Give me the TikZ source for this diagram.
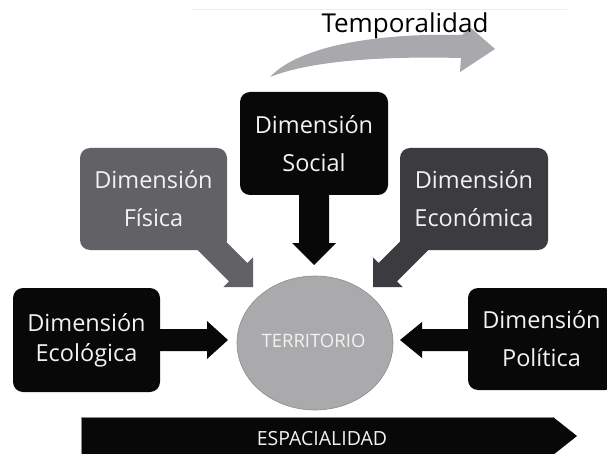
\documentclass[tikz,border=0pt]{standalone}
\usepackage{fontspec}
\setmainfont{Open Sans}
\usetikzlibrary{calc,shapes.geometric}
\pgfdeclarelayer{background}
\pgfsetlayers{background,main}
\definecolor{fisgray}{RGB}{98,98,102}
\definecolor{ecogray}{RGB}{60,59,63}
\definecolor{terrgray}{RGB}{170,170,173}
\definecolor{tempgray}{RGB}{168,168,173}
\definecolor{boxblack}{RGB}{8,8,8}
\definecolor{softwhite}{RGB}{242,242,242}
% block arrow: colour, from, to, shaft half-width, head half-width, head length
\newcommand\myblockarrow[6]{%
  \coordinate (bahead) at ($(#3)!#6!(#2)$);
  \fill[#1] ($(#2)!#4!90:(#3)$) -- ($(bahead)!#4!90:(#3)$) -- ($(bahead)!#5!90:(#3)$)
    -- (#3) -- ($(bahead)!#5!-90:(#3)$) -- ($(bahead)!#4!-90:(#3)$) -- ($(#2)!#4!-90:(#3)$) -- cycle;
}
\tikzset{
  dimbox/.style={rounded corners=10pt, inner sep=0pt, align=center, text=softwhite,
    font=\fontsize{23.5}{38}\selectfont},
  toptext/.style={font=\fontsize{26}{30}\selectfont, text=black, inner sep=0pt},
  captext/.style={font=\fontsize{19.5}{22}\selectfont, text=softwhite, inner sep=0pt}
}
\begin{document}
\begin{tikzpicture}[x=1pt,y=-1pt]
\useasboundingbox (0,0) rectangle (607,454);
\clip (0,0) rectangle (607,454);
\draw[black!7, line width=0.8pt] (192,9) -- (567,9);

% Temporalidad curved arrow
\fill[tempgray] (270,77) .. controls (300,45) and (380,33) .. (462,35)
  -- (471,28) -- (495,49) -- (460,72) -- (461,58)
  .. controls (380,56) and (310,61) .. (270,77) -- cycle;
\node[toptext, anchor=base] (temporal) at (405,33) {Temporalidad};

% boxes
\node[dimbox, fill=boxblack, minimum width=148pt, minimum height=103pt] (social) at (314,143.5) {Dimensión\\Social};
\node[dimbox, fill=fisgray, minimum width=147pt, minimum height=102pt] (fisica) at (153.5,199) {Dimensión\\Física};
\node[dimbox, fill=ecogray, minimum width=148pt, minimum height=102pt] (economica) at (474,199) {Dimensión\\Económica};
\node[dimbox, fill=boxblack, minimum width=147pt, minimum height=104pt,
  font=\fontsize{23.5}{30}\selectfont] (ecologica) at (86.5,340) {Dimensión\\Ecológica};
\node[dimbox, fill=boxblack, minimum width=147pt, minimum height=102pt] (politica) at (541.5,339) {Dimensión\\Política};

% territorio
\node[ellipse, fill=terrgray, draw=black!45, line width=0.6pt, minimum width=156pt, minimum height=134pt, inner sep=0pt] (terr) at (315,343) {};
\node[captext, anchor=base, font=\fontsize{18.5}{22}\selectfont] (terrtext) at (313.5,347) {TERRITORIO};

% arrow tips / starts
\coordinate (socialtip) at (314,265);
\coordinate (fisstart) at (190,224);
\coordinate (fistip) at (253,287);
\coordinate (ecostart) at (436,224);
\coordinate (ecotip) at (373,287);
\coordinate (ecolstart) at (86.5,340);
\coordinate (ecoltip) at (228,340);
\coordinate (polstart) at (541.5,340);
\coordinate (poltip) at (400,340);

\begin{pgfonlayer}{background}
\fill[white] (0,0) rectangle (607,454);
\myblockarrow{boxblack}{social.center}{socialtip}{15pt}{22pt}{22pt}
\myblockarrow{fisgray}{fisstart}{fistip}{13pt}{21pt}{21pt}
\myblockarrow{ecogray}{ecostart}{ecotip}{13pt}{21pt}{21pt}
\myblockarrow{boxblack}{ecolstart}{ecoltip}{11pt}{19pt}{21pt}
\myblockarrow{boxblack}{polstart}{poltip}{11pt}{18pt}{22pt}
\end{pgfonlayer}

% espacialidad arrow
\fill[boxblack] (81,417) -- (553,417) -- (577,436) -- (553,455) -- (81,455) -- cycle;
\draw[black!45, line width=0.8pt] (81,455) -- (81,417) -- (553,417);
\node[captext, anchor=base] (espacial) at (322,445) {ESPACIALIDAD};
\end{tikzpicture}
\end{document}
